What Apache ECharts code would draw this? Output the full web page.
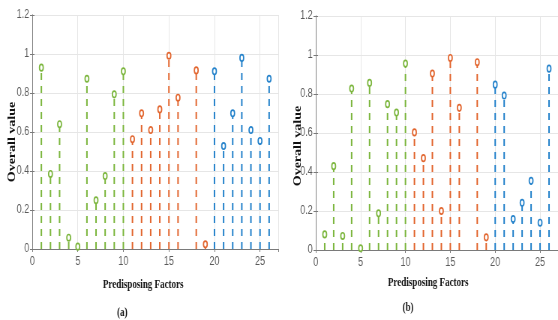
<!DOCTYPE html>
<html>
<head>
<meta charset="utf-8">
<script src="https://cdn.jsdelivr.net/npm/echarts@6/dist/echarts.min.js"></script>
<style>
  html, body { margin: 0; padding: 0; background: #fff; overflow: hidden; }
  /* the source figure is squeezed horizontally, so draw wide and squeeze */
  #chart { width: 744px; height: 320px; transform: scaleX(0.75); transform-origin: 0 0; }
</style>
</head>
<body>
<div id="chart"></div>
<script>
// factor numbers per colour group (17 has no stem)
const greenFactors = [1, 2, 3, 4, 5, 6, 7, 8, 9, 10];
const orangeFactors = [11, 12, 13, 14, 15, 16, 18, 19];
const blueFactors = [20, 21, 22, 23, 24, 25, 26];

// panel (a)
const aGreen = [0.93, 0.385, 0.64, 0.058, 0.012, 0.873, 0.25, 0.374, 0.793, 0.911];
const aOrange = [0.563, 0.696, 0.61, 0.716, 0.991, 0.776, 0.916, 0.024];
const aBlue = [0.911, 0.528, 0.696, 0.98, 0.61, 0.554, 0.873];

// panel (b)
const bGreen = [0.08, 0.43, 0.072, 0.828, 0.009, 0.857, 0.188, 0.748, 0.705, 0.956];
const bOrange = [0.603, 0.471, 0.905, 0.2, 0.985, 0.729, 0.963, 0.065];
const bBlue = [0.848, 0.792, 0.159, 0.242, 0.355, 0.14, 0.93];

const xTicks = [0, 5, 10, 15, 20, 25];
const yTicks = [0, 0.2, 0.4, 0.6, 0.8, 1, 1.2];

const colors = { green: "#7cb63e", orange: "#e2662f", blue: "#2683cb" };

const chart = echarts.init(document.getElementById("chart"), null, { renderer: "canvas" });

const zip = (xs, ys) => xs.map((x, i) => [x, ys[i]]);

// dashed stem from 0 up to the value, hollow marker on top
function stem(name, color, xs, ys, idx) {
  return {
    name: name,
    type: "custom",
    xAxisIndex: idx * 2,
    yAxisIndex: idx * 2,
    data: zip(xs, ys),
    animation: false,
    renderItem: function (params, api) {
      const x = api.value(0);
      const p0 = api.coord([x, 0]);
      const p1 = api.coord([x, api.value(1)]);
      return {
        type: "group",
        children: [
          {
            type: "line",
            shape: { x1: p0[0], y1: p0[1], x2: p1[0], y2: p1[1] },
            style: { stroke: color, lineWidth: 2, lineDash: [7, 6] }
          },
          {
            type: "ellipse",
            shape: { cx: p1[0], cy: p1[1], rx: 2.5, ry: 3.2 },
            style: { fill: "#fff", stroke: color, lineWidth: 1.7 }
          }
        ]
      };
    }
  };
}

const tickFont = { color: "#5a5a5a", fontFamily: "Liberation Sans", fontSize: 12 };

function xAxes(grid) {
  return [
    {
      type: "value",
      gridIndex: grid,
      min: 0,
      max: 27,
      interval: 5,
      axisLine: { lineStyle: { color: "#7a7a7a" } },
      axisTick: { inside: true, length: 3, lineStyle: { color: "#7a7a7a" } },
      axisLabel: Object.assign({
        margin: 7,
        showMaxLabel: false,
        formatter: v => (xTicks.includes(v) ? String(v) : "")
      }, tickFont),
      splitLine: { show: true, lineStyle: { color: "#e6e6e6" } }
    },
    {
      type: "value",
      gridIndex: grid,
      position: "top",
      min: 0,
      max: 27,
      interval: 5,
      axisLine: { lineStyle: { color: "#7a7a7a" } },
      axisTick: { inside: true, length: 3, lineStyle: { color: "#7a7a7a" } },
      axisLabel: { show: false },
      splitLine: { show: false }
    }
  ];
}

function yAxes(grid) {
  return [
    {
      type: "value",
      gridIndex: grid,
      min: 0,
      max: 1.2,
      interval: 0.2,
      axisLine: { show: true, lineStyle: { color: "#7a7a7a" } },
      axisTick: { show: true, inside: true, length: 3, lineStyle: { color: "#7a7a7a" } },
      axisLabel: Object.assign({
        margin: 4,
        formatter: v => {
          const t = yTicks.find(k => Math.abs(k - v) < 1e-6);
          return t === undefined ? "" : String(t);
        }
      }, tickFont),
      splitLine: { show: true, lineStyle: { color: "#e6e6e6" } }
    },
    {
      type: "value",
      gridIndex: grid,
      position: "right",
      min: 0,
      max: 1.2,
      interval: 0.2,
      axisLine: { show: true, lineStyle: { color: "#7a7a7a" } },
      axisTick: { show: true, inside: true, length: 3, lineStyle: { color: "#7a7a7a" } },
      axisLabel: { show: false },
      splitLine: { show: false }
    }
  ];
}

function label(text, x, y, size, rotate) {
  return {
    type: "text",
    x: x,
    y: y,
    rotation: rotate ? Math.PI / 2 : 0,
    style: {
      text: text,
      font: "bold " + size + "px 'Liberation Serif', serif",
      fill: "#111",
      textAlign: "center",
      textVerticalAlign: "middle"
    }
  };
}

chart.setOption({
  animation: false,
  grid: [
    { left: 43, top: 15, width: 328, height: 234 },
    { left: 421, top: 16, width: 328, height: 234 }
  ],
  xAxis: xAxes(0).concat(xAxes(1)),
  yAxis: yAxes(0).concat(yAxes(1)),
  graphic: [
    label("Overall value", 16, 142, 14, true),
    label("Overall value", 397, 146, 14, true),
    label("Predisposing Factors", 191, 285, 12, false),
    label("Predisposing Factors", 571, 283, 12, false),
    label("(a)", 163, 313, 12, false),
    label("(b)", 544, 308, 12, false)
  ],
  series: [
    stem("a-green", colors.green, greenFactors, aGreen, 0),
    stem("a-orange", colors.orange, orangeFactors, aOrange, 0),
    stem("a-blue", colors.blue, blueFactors, aBlue, 0),
    stem("b-green", colors.green, greenFactors, bGreen, 1),
    stem("b-orange", colors.orange, orangeFactors, bOrange, 1),
    stem("b-blue", colors.blue, blueFactors, bBlue, 1)
  ]
});
</script>
</body>
</html>
